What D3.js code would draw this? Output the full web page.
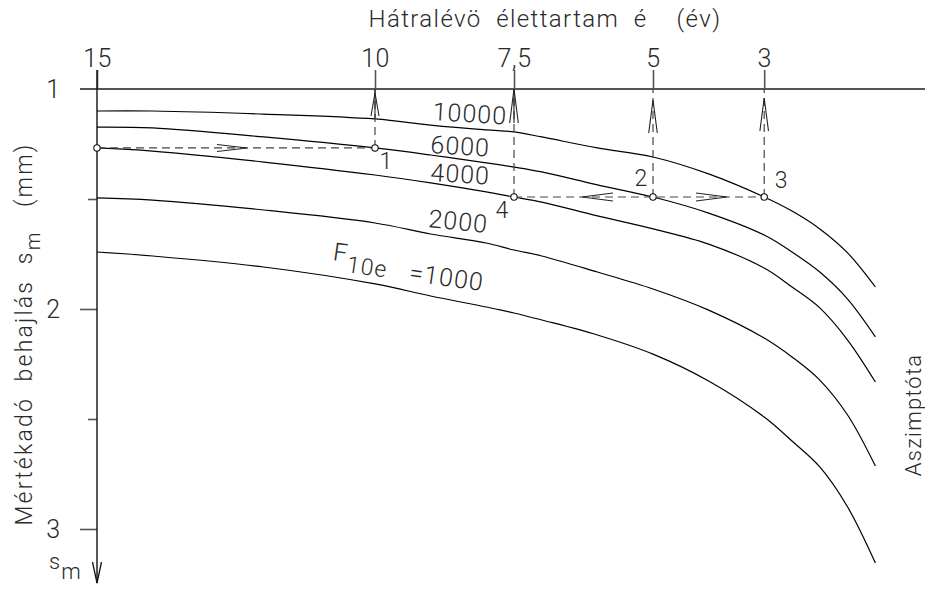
<!DOCTYPE html>
<html>
<head>
<meta charset="utf-8">
<script src="https://cdn.jsdelivr.net/npm/d3@7"></script>
<style>
  html, body { margin: 0; padding: 0; background: #fff; }
  svg { display: block; font-family: Roboto, "DejaVu Sans", sans-serif; font-weight: 300; }
  text { fill: #2a2a2a; white-space: pre; }
</style>
</head>
<body>
<svg id="chart" width="925" height="597"></svg>
<script>
// Remaining service life (years) along the top axis
const years = [15, 14, 12, 10, 9, 8, 7.5, 7, 6, 5, 4, 3, 2.5, 2, 1.5, 1];
// Governing deflection s_m (mm) for each F10e traffic load
const s10000 = [1.100, 1.100, 1.114, 1.136, 1.164, 1.186, 1.195, 1.218, 1.268, 1.309, 1.386, 1.491, 1.555, 1.636, 1.745, 1.900];
const s6000  = [1.173, 1.177, 1.218, 1.268, 1.300, 1.336, 1.355, 1.377, 1.436, 1.491, 1.564, 1.664, 1.741, 1.832, 1.955, 2.127];
const s4000  = [1.268, 1.282, 1.332, 1.391, 1.427, 1.468, 1.491, 1.514, 1.577, 1.636, 1.705, 1.814, 1.900, 1.995, 2.141, 2.332];
const s2000  = [1.495, 1.505, 1.550, 1.609, 1.659, 1.700, 1.732, 1.759, 1.832, 1.909, 2.005, 2.132, 2.218, 2.323, 2.482, 2.714];
const s1000  = [1.741, 1.759, 1.809, 1.886, 1.941, 1.991, 2.018, 2.050, 2.118, 2.205, 2.327, 2.491, 2.600, 2.718, 2.900, 3.155];

const loadNames = ["10000", "6000", "4000", "2000", "1000"];
const loadSeries = [s10000, s6000, s4000, s2000, s1000];

// Axis ticks
const xTicks = [15, 10, 7.5, 5, 3, 0];
const yTicks = [1, 1.5, 2, 2.5, 3];

const startPoint = { t: 15, s: 1.268 };
const examplePoints = [
  { id: "1", t: 10,  s: 1.268 },
  { id: "2", t: 5,   s: 1.491 },
  { id: "3", t: 3,   s: 1.491 },
  { id: "4", t: 7.5, s: 1.491 }
];

const svg = d3.select("#chart");
const x = d3.scaleLinear().domain([15, 0]).range([97, 931]);
const y = d3.scaleLinear().domain([1, 3]).range([89, 529]);

// ---- top axis (years) ----
const xAxis = d3.axisTop(x)
  .tickValues(xTicks)
  .tickSize(19)
  .tickPadding(6)
  .tickFormat(d => String(d).replace(".", ","));
const gx = svg.append("g").attr("transform", `translate(0,${y(1)})`).call(xAxis);
gx.select(".domain").remove();
gx.selectAll(".tick line").attr("stroke", "#555").attr("stroke-width", 1.6);
gx.selectAll(".tick text")
  .attr("font-size", 25).attr("font-family", "Roboto, sans-serif")
  .attr("font-weight", 300).attr("fill", "#2a2a2a").attr("dy", "0.1em")
  .attr("letter-spacing", 0.5);

// horizontal reference line at s = 1
svg.append("line")
  .attr("x1", 80).attr("x2", 925)
  .attr("y1", y(1)).attr("y2", y(1))
  .attr("stroke", "#555").attr("stroke-width", 1.8);

// ---- left axis (deflection) ----
const yAxis = d3.axisLeft(y)
  .tickValues(yTicks)
  .tickSize(17)
  .tickPadding(20)
  .tickFormat(d => Number.isInteger(d) ? d : "");
const gy = svg.append("g").attr("transform", `translate(${x(15)},0)`).call(yAxis);
gy.select(".domain").remove();
gy.selectAll(".tick line")
  .attr("stroke", "#555").attr("stroke-width", 1.6)
  .attr("x2", d => Number.isInteger(d) ? -17 : -9);
gy.selectAll(".tick").filter(d => d === 1).select("line").remove();
gy.selectAll(".tick text")
  .attr("font-size", 25).attr("font-family", "Roboto, sans-serif")
  .attr("font-weight", 300).attr("fill", "#2a2a2a");

// vertical axis line with downward arrow
svg.append("line")
  .attr("x1", x(15)).attr("x2", x(15))
  .attr("y1", 70).attr("y2", 583)
  .attr("stroke", "#111").attr("stroke-width", 1.4);
svg.append("path")
  .attr("d", `M${x(15) - 4.5},562 L${x(15)},583 L${x(15) + 4.5},562`)
  .attr("fill", "none").attr("stroke", "#111").attr("stroke-width", 1.3);

// s_m symbol by the arrow
const smLabel = svg.append("text").attr("x", 49).attr("y", 569).attr("font-size", 22);
smLabel.append("tspan").text("s");
smLabel.append("tspan").attr("dy", 10).attr("dx", 1).text("m");

// ---- titles ----
svg.append("text")
  .attr("x", 545).attr("y", 27)
  .attr("text-anchor", "middle").attr("font-size", 24)
  .attr("letter-spacing", 1.4)
  .text("Hátralévö  élettartam  é    (év)");

const yTitle = svg.append("text")
  .attr("transform", "translate(32,334) rotate(-90)")
  .attr("text-anchor", "middle").attr("font-size", 23)
  .attr("letter-spacing", 2.2);
yTitle.append("tspan").text("Mértékadó  behajlás  s");
yTitle.append("tspan").attr("dy", 8).attr("font-size", 20).text("m");
yTitle.append("tspan").attr("dy", -8).text("   (mm)");

svg.append("text")
  .attr("transform", "translate(921,415) rotate(-90)")
  .attr("text-anchor", "middle").attr("font-size", 22)
  .attr("letter-spacing", 1.2)
  .text("Aszimptóta");

// ---- curves ----
const line = d3.line()
  .x(d => x(d[0]))
  .y(d => y(d[1]))
  .curve(d3.curveCatmullRom.alpha(0.5));

svg.append("g").selectAll("path")
  .data(loadSeries)
  .join("path")
  .attr("d", s => line(years.map((t, i) => [t, s[i]])))
  .attr("fill", "none")
  .attr("stroke", "#000")
  .attr("stroke-width", 1.2);

// curve labels (anchored in data space, tilted along the curve)
const curveLabels = [
  { text: "10000", t: 8.97, s: 1.141, rot: 3.5 },
  { text: "6000",  t: 9.01, s: 1.291, rot: 3.5 },
  { text: "4000",  t: 9.01, s: 1.418, rot: 3.5 },
  { text: "2000",  t: 9.05, s: 1.627, rot: 6 }
];
svg.append("g").selectAll("text")
  .data(curveLabels)
  .join("text")
  .attr("transform", d => `translate(${x(d.t)},${y(d.s)}) rotate(${d.rot})`)
  .attr("font-size", 25)
  .attr("letter-spacing", 1)
  .text(d => d.text);

const fLabel = svg.append("text")
  .attr("transform", `translate(${x(10.77)},${y(1.777)}) rotate(8)`)
  .attr("font-size", 25)
  .attr("letter-spacing", 1.2);
fLabel.append("tspan").text("F");
fLabel.append("tspan").attr("dy", 10).attr("font-size", 23).text("10e");
fLabel.append("tspan").text("   =" + loadNames[4]);

// ---- worked example: dashed guides, arrows, points ----
const guide = svg.append("g")
  .attr("fill", "none").attr("stroke", "#444")
  .attr("stroke-width", 1.2);
const dash = "8,5";
const [p1, p2, p3, p4] = examplePoints;

guide.append("line")
  .attr("x1", x(startPoint.t)).attr("x2", x(p1.t))
  .attr("y1", y(startPoint.s)).attr("y2", y(p1.s))
  .attr("stroke-dasharray", dash);
guide.append("line")
  .attr("x1", x(p4.t)).attr("x2", x(p3.t))
  .attr("y1", y(p4.s)).attr("y2", y(p3.s))
  .attr("stroke-dasharray", dash);

// vertical projections to the time axis
examplePoints.forEach(p => {
  guide.append("line")
    .attr("x1", x(p.t)).attr("x2", x(p.t))
    .attr("y1", y(p.s)).attr("y2", y(1))
    .attr("stroke-dasharray", dash);
});

// open chevron arrowheads
const chevH = (tipX, tipY, dir, len, half) =>
  `M${tipX - dir * len},${tipY - half} L${tipX},${tipY} L${tipX - dir * len},${tipY + half}`;
const chevUp = (tipX, tipY, len, half) =>
  `M${tipX - half},${tipY + len} L${tipX},${tipY} L${tipX + half},${tipY + len}`;

const arrows = svg.append("g").attr("fill", "none").attr("stroke", "#222").attr("stroke-width", 1.1);
arrows.append("path").attr("d", chevH(247, y(startPoint.s), 1, 30, 3.5));
arrows.append("path").attr("d", chevH(582, y(p2.s), -1, 31, 4));
arrows.append("path").attr("d", chevH(727, y(p2.s), 1, 31, 4));
arrows.append("path").attr("d", chevUp(x(p1.t), 93, 23, 4));
arrows.append("path").attr("d", chevUp(x(p4.t), 89, 34, 4.3));
arrows.append("path").attr("d", chevUp(x(p2.t), 100, 33, 4.3));
arrows.append("path").attr("d", chevUp(x(p3.t), 98, 33, 4.3));
// solid shafts beneath the arrowheads
arrows.append("line").attr("x1", x(p1.t)).attr("x2", x(p1.t)).attr("y1", 89).attr("y2", 118);
arrows.append("line").attr("x1", x(p4.t)).attr("x2", x(p4.t)).attr("y1", 89).attr("y2", 123);

svg.append("g").selectAll("circle")
  .data([startPoint, ...examplePoints])
  .join("circle")
  .attr("cx", d => x(d.t)).attr("cy", d => y(d.s))
  .attr("r", 3.2)
  .attr("fill", "#fff").attr("stroke", "#111").attr("stroke-width", 1.1);

const pointLabelOffsets = { "1": [11, 21], "2": [-12, -11], "3": [17, -9], "4": [-12, 21] };
svg.append("g").selectAll("text")
  .data(examplePoints)
  .join("text")
  .attr("x", d => x(d.t) + pointLabelOffsets[d.id][0])
  .attr("y", d => y(d.s) + pointLabelOffsets[d.id][1])
  .attr("text-anchor", "middle")
  .attr("font-size", 23)
  .text(d => d.id);
</script>
</body>
</html>
